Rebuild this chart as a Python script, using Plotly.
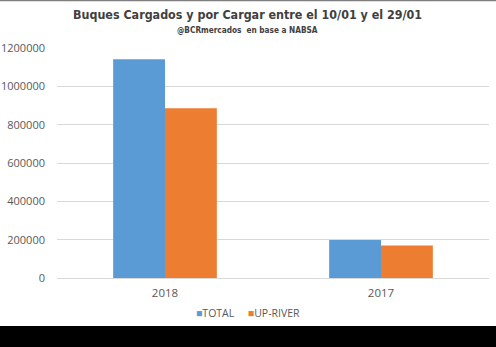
import plotly.graph_objects as go

categories = ["2018", "2017"]
total = [1141000, 198000]
up_river = [886000, 170000]
series_names = ["TOTAL", "UP-RIVER"]
colors = ["#5B9BD5", "#ED7D31"]
y_ticks = [0, 200000, 400000, 600000, 800000, 1000000, 1200000]

W, H = 496, 347
ml, mr, mt, mb = 57, 7, 48, 69
pw, ph = W - ml - mr, H - mt - mb

def px_x(x):
    return (x - ml) / pw

def px_y(y):
    return (H - mb - y) / ph

fig = go.Figure()
fig.add_trace(go.Bar(x=categories, y=total, name=series_names[0],
                     marker=dict(color=colors[0], line=dict(width=0)), showlegend=False))
fig.add_trace(go.Bar(x=categories, y=up_river, name=series_names[1],
                     marker=dict(color=colors[1], line=dict(width=0)), showlegend=False))

fig.update_layout(
    width=W, height=H,
    margin=dict(l=ml, r=mr, t=mt, b=mb, pad=0, autoexpand=False),
    paper_bgcolor="white", plot_bgcolor="white",
    barmode="group", bargap=0.52, bargroupgap=0,
    font=dict(family="Open Sans", color="#595959", size=11),
    xaxis=dict(showgrid=False, showline=False, ticks="", zeroline=False,
               ticklabelstandoff=6, automargin=False,
               tickfont=dict(size=11.5, color="#595959")),
    yaxis=dict(range=[0, 1200000], tickvals=y_ticks, ticktext=[str(v) for v in y_ticks],
               showgrid=True, gridcolor="#D9D9D9", gridwidth=1, zeroline=True,
               zerolinecolor="#D9D9D9", zerolinewidth=1, showline=False, ticks="",
               ticklabelstandoff=11, automargin=False,
               tickfont=dict(size=11, color="#595959")),
    showlegend=False,
)

annotations = [
    dict(text="<b>Buques Cargados y por Cargar entre el 10/01 y el 29/01</b>",
         x=px_x(247), y=px_y(15), xref="paper", yref="paper", showarrow=False,
         xanchor="center", yanchor="middle",
         font=dict(family="DejaVu Sans Condensed, Roboto", size=12.4, color="#404040")),
    dict(text="<b>@BCRmercados  en base a NABSA</b>",
         x=px_x(247), y=px_y(30), xref="paper", yref="paper", showarrow=False,
         xanchor="center", yanchor="middle",
         font=dict(family="DejaVu Sans Condensed, Roboto", size=8.2, color="#404040")),
    dict(text=f"<span style='color:{colors[0]}'>■</span>{series_names[0]}     "
              f"<span style='color:{colors[1]}'>■</span>{series_names[1]}",
         x=px_x(248), y=px_y(313), xref="paper", yref="paper", showarrow=False,
         xanchor="center", yanchor="middle",
         font=dict(family="Open Sans", size=10.5, color="#595959")),
]
fig.update_layout(annotations=annotations)

shapes = [
    dict(type="rect", xref="paper", yref="paper",
         x0=px_x(-5), x1=px_x(W + 5), y0=px_y(326), y1=px_y(H + 5),
         fillcolor="black", line=dict(width=0), layer="above"),
    dict(type="line", xref="paper", yref="paper",
         x0=px_x(0), x1=px_x(W), y0=px_y(0.5), y1=px_y(0.5),
         line=dict(color="#7F7F7F", width=1.5)),
]
fig.update_layout(shapes=shapes)

fig.write_html("out.html")
